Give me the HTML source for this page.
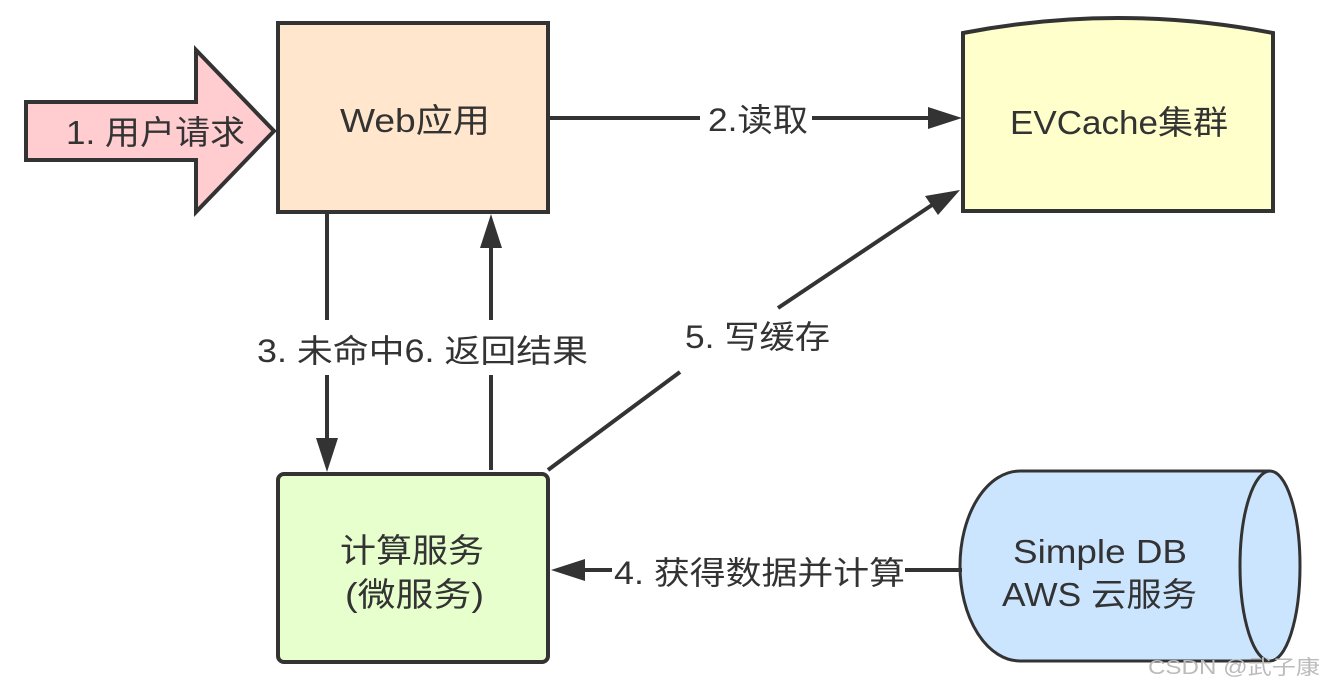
<!DOCTYPE html>
<html><head><meta charset="utf-8"><style>
body{margin:0;background:#fff;}
svg text{font-family:"Liberation Sans","Noto Sans CJK SC",sans-serif;fill:#333;}
</style></head><body>
<svg width="1324" height="692" viewBox="0 0 1324 692" xmlns="http://www.w3.org/2000/svg">
<polygon points="26,102 196,102 196,50 274,131 196,212 196,160 26,160" fill="#ffccd0" stroke="#333" stroke-width="4" stroke-linejoin="miter"/>
<text x="66" y="144" font-size="33" textLength="179" lengthAdjust="spacingAndGlyphs">1. 用户请求</text>
<rect x="278" y="23" width="270" height="189" fill="#ffe6cc" stroke="#333" stroke-width="4"/>
<text x="340" y="132" font-size="33" textLength="150" lengthAdjust="spacingAndGlyphs">Web应用</text>
<path d="M963,33 Q1118,3 1273,33 L1273,211 L963,211 Z" fill="#ffffcc" stroke="#333" stroke-width="4"/>
<text x="1010" y="134" font-size="33" textLength="218" lengthAdjust="spacingAndGlyphs">EVCache集群</text>
<rect x="278" y="474" width="270" height="188" rx="6" fill="#e6ffcc" stroke="#333" stroke-width="4"/>
<text x="340" y="562" font-size="33" textLength="144" lengthAdjust="spacingAndGlyphs">计算服务</text>
<text x="345" y="606" font-size="33" textLength="139" lengthAdjust="spacingAndGlyphs">(微服务)</text>
<path d="M1270,471 L1020,471 A60,95 0 0 0 1020,661 L1270,661" fill="#cce5ff" stroke="#333" stroke-width="3"/>
<ellipse cx="1270" cy="566" rx="30" ry="95" fill="#cce5ff" stroke="#333" stroke-width="3"/>
<text x="1013" y="563" font-size="33" textLength="174" lengthAdjust="spacingAndGlyphs">Simple DB</text>
<text x="1002" y="606" font-size="33" textLength="195" lengthAdjust="spacingAndGlyphs">AWS 云服务</text>
<g stroke="#333" stroke-width="4" fill="none">
<line x1="550" y1="118" x2="700" y2="118"/>
<line x1="812" y1="118" x2="930" y2="118"/>
<line x1="327" y1="213" x2="327" y2="320"/>
<line x1="327" y1="375" x2="327" y2="440"/>
<line x1="491" y1="470" x2="491" y2="375"/>
<line x1="491" y1="320" x2="491" y2="245"/>
<line x1="548" y1="470" x2="680" y2="372"/>
<line x1="778" y1="308" x2="932" y2="205"/>
<line x1="962" y1="570" x2="905" y2="570"/>
<line x1="612" y1="570" x2="585" y2="570"/>
</g>
<g fill="#333">
<polygon points="962,118 928,107 928,129"/>
<polygon points="327,472 316,438 338,438"/>
<polygon points="491,214 480,248 502,248"/>
<polygon points="960,190 925,196 938,215"/>
<polygon points="551,570 585,559 585,581"/>
</g>
<text x="708" y="131" font-size="32" textLength="100" lengthAdjust="spacingAndGlyphs">2.读取</text>
<text x="257" y="362" font-size="32" textLength="331" lengthAdjust="spacingAndGlyphs">3. 未命中6. 返回结果</text>
<text x="685" y="348" font-size="32" textLength="145" lengthAdjust="spacingAndGlyphs">5. 写缓存</text>
<text x="614" y="584" font-size="32" textLength="291" lengthAdjust="spacingAndGlyphs">4. 获得数据并计算</text>
<text x="1148" y="674" font-size="20" style="fill:#bbb" textLength="172" lengthAdjust="spacingAndGlyphs">CSDN @武子康</text>
</svg>
</body></html>
